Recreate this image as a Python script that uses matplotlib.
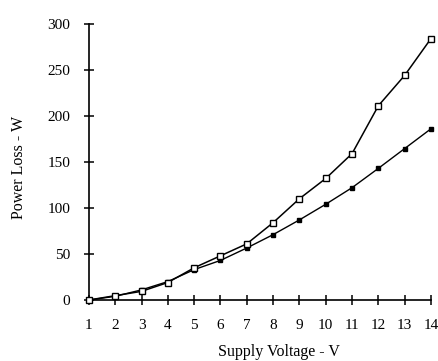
import matplotlib

matplotlib.use("Agg")
import matplotlib.pyplot as plt

plt.rcParams["font.family"] = ["Liberation Serif", "DejaVu Serif"]

voltage = [1, 2, 3, 4, 5, 6, 7, 8, 9, 10, 11, 12, 13, 14]
loss_open = [0, 4.7, 9.4, 19, 35, 48, 61, 84, 110, 132, 159, 211, 244, 284]
loss_filled = [0, 4, 11, 20, 33, 43, 56.5, 71, 87, 104, 122, 143, 164.5, 186]

y_ticks = [0, 50, 100, 150, 200, 250, 300]

fig = plt.figure(figsize=(4.38, 3.61), dpi=100, facecolor="white")
ax = fig.add_axes([0.203, 0.169, 0.781, 0.765])

ax.plot(voltage, loss_filled, color="black", linewidth=1.0, marker="s",
        markersize=2.8, markerfacecolor="black", clip_on=False, zorder=3)
ax.plot(voltage, loss_open, color="black", linewidth=1.1, marker="s",
        markersize=5, markerfacecolor="white", markeredgewidth=1.0,
        clip_on=False, zorder=4)

ax.set_xlim(1, 14)
ax.set_ylim(0, 300)
ax.set_xticks(voltage)
ax.set_yticks(y_ticks)

for side in ("top", "right"):
    ax.spines[side].set_visible(False)
for side in ("left", "bottom"):
    ax.spines[side].set_linewidth(1.2)

ax.tick_params(axis="both", direction="inout", length=7, width=1.1,
               labelsize=11, pad=10)

ax.set_xlabel("Supply Voltage - V", fontsize=11.5)
ax.xaxis.set_label_coords(0.556, -0.16)
ax.set_ylabel("Power Loss - W", fontsize=11.5)
ax.yaxis.set_label_coords(-0.18, 0.48)

fig.savefig("out.png", dpi=100)
